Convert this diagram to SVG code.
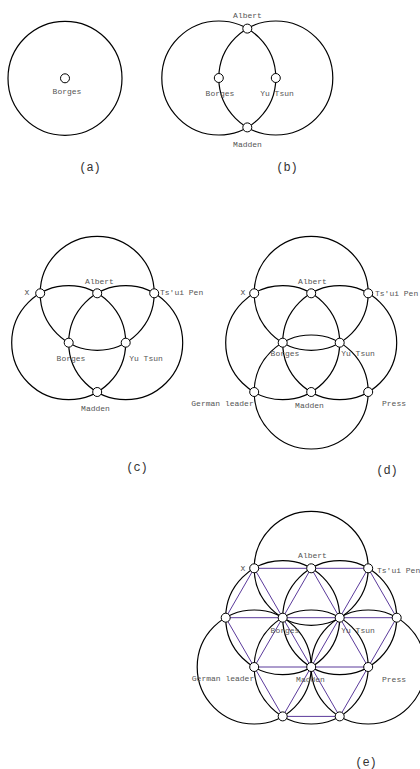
<svg xmlns="http://www.w3.org/2000/svg" width="420" height="769" viewBox="0 0 420 769">
<style>
.ring{fill:none;stroke:#000;stroke-width:1.2}
.node{fill:#fff;stroke:#000;stroke-width:1}
.edge{stroke:#5b3a9b;stroke-width:1;fill:none}
.lbl{font-family:"Liberation Mono","DejaVu Sans Mono",monospace;font-size:8px;fill:#555;text-anchor:middle}
.st{text-anchor:start}
.cap{font-family:"Liberation Mono","DejaVu Sans Mono",monospace;font-size:12px;fill:#333;text-anchor:middle}
</style>
<rect width="420" height="769" fill="#fff"/>

<!-- (a) -->
<g id="a-rings"><circle class="ring" cx="65" cy="78.3" r="57"/></g>
<g id="a-borges"><circle class="node" cx="65" cy="78.3" r="4.5"/><text class="lbl" x="67" y="93.5">Borges</text></g>
<text class="cap" x="90" y="170.5">(a)</text>

<!-- (b) -->
<g id="b-rings">
<circle class="ring" cx="218.8" cy="78" r="57"/>
<circle class="ring" cx="275.8" cy="78" r="57"/>
</g>
<g id="b-albert"><circle class="node" cx="247.3" cy="28.6" r="4.5"/><text class="lbl" x="247.5" y="18">Albert</text></g>
<g id="b-borges"><circle class="node" cx="218.8" cy="78" r="4.5"/><text class="lbl" x="220" y="95.5">Borges</text></g>
<g id="b-yutsun"><circle class="node" cx="275.8" cy="78" r="4.5"/><text class="lbl" x="277" y="95.5">Yu Tsun</text></g>
<g id="b-madden"><circle class="node" cx="247.3" cy="127.4" r="4.5"/><text class="lbl" x="247.5" y="147">Madden</text></g>
<text class="cap" x="287" y="170.5">(b)</text>

<!-- (c) -->
<g id="c-rings">
<circle class="ring" cx="97.2" cy="293.3" r="57"/>
<circle class="ring" cx="68.7" cy="342.7" r="57"/>
<circle class="ring" cx="125.7" cy="342.7" r="57"/>
</g>
<g id="c-x"><circle class="node" cx="40.2" cy="293.3" r="4.5"/><text class="lbl" x="27" y="294.5">X</text></g>
<g id="c-albert"><circle class="node" cx="97.2" cy="293.3" r="4.5"/><text class="lbl" x="99.5" y="283.5">Albert</text></g>
<g id="c-tsuipen"><circle class="node" cx="154.2" cy="293.3" r="4.5"/><text class="lbl st" x="160" y="294.5">Ts'ui Pen</text></g>
<g id="c-borges"><circle class="node" cx="68.7" cy="342.7" r="4.5"/><text class="lbl" x="71" y="361">Borges</text></g>
<g id="c-yutsun"><circle class="node" cx="125.7" cy="342.7" r="4.5"/><text class="lbl" x="146" y="361">Yu Tsun</text></g>
<g id="c-madden"><circle class="node" cx="97.2" cy="392" r="4.5"/><text class="lbl" x="95.5" y="410.5">Madden</text></g>
<text class="cap" x="137" y="470.5">(c)</text>

<!-- (d) -->
<g id="d-rings">
<circle class="ring" cx="311.2" cy="293.3" r="57"/>
<circle class="ring" cx="282.7" cy="342.7" r="57"/>
<circle class="ring" cx="339.7" cy="342.7" r="57"/>
<circle class="ring" cx="311.2" cy="392" r="57"/>
</g>
<g id="d-x"><circle class="node" cx="254.2" cy="293.3" r="4.5"/><text class="lbl" x="243" y="294.5">X</text></g>
<g id="d-albert"><circle class="node" cx="311.2" cy="293.3" r="4.5"/><text class="lbl" x="312.5" y="283.5">Albert</text></g>
<g id="d-tsuipen"><circle class="node" cx="368.2" cy="293.3" r="4.5"/><text class="lbl st" x="375" y="296">Ts'ui Pen</text></g>
<g id="d-borges"><circle class="node" cx="282.7" cy="342.7" r="4.5"/><text class="lbl" x="285" y="356">Borges</text></g>
<g id="d-yutsun"><circle class="node" cx="339.7" cy="342.7" r="4.5"/><text class="lbl" x="358" y="356">Yu Tsun</text></g>
<g id="d-german"><circle class="node" cx="254.2" cy="392" r="4.5"/><text class="lbl" x="222.5" y="406">German leader</text></g>
<g id="d-madden"><circle class="node" cx="311.2" cy="392" r="4.5"/><text class="lbl" x="309.5" y="408">Madden</text></g>
<g id="d-press"><circle class="node" cx="368.2" cy="392" r="4.5"/><text class="lbl" x="394" y="406">Press</text></g>
<text class="cap" x="387" y="473.5">(d)</text>

<!-- (e) -->
<g id="e-rings">
<circle class="ring" cx="311.2" cy="568.3" r="57"/>
<circle class="ring" cx="282.7" cy="617.7" r="57"/>
<circle class="ring" cx="339.7" cy="617.7" r="57"/>
<circle class="ring" cx="311.2" cy="667" r="57"/>
<circle class="ring" cx="254.2" cy="667" r="57"/>
<circle class="ring" cx="368.2" cy="667" r="57"/>
</g>
<g id="e-connectors">
<line class="edge" x1="254.2" y1="568.3" x2="368.2" y2="568.3"/>
<line class="edge" x1="225.7" y1="617.7" x2="396.7" y2="617.7"/>
<line class="edge" x1="254.2" y1="667" x2="368.2" y2="667"/>
<line class="edge" x1="282.7" y1="716.4" x2="339.7" y2="716.4"/>
<line class="edge" x1="254.2" y1="568.3" x2="225.7" y2="617.7"/>
<line class="edge" x1="254.2" y1="568.3" x2="282.7" y2="617.7"/>
<line class="edge" x1="311.2" y1="568.3" x2="282.7" y2="617.7"/>
<line class="edge" x1="311.2" y1="568.3" x2="339.7" y2="617.7"/>
<line class="edge" x1="368.2" y1="568.3" x2="339.7" y2="617.7"/>
<line class="edge" x1="368.2" y1="568.3" x2="396.7" y2="617.7"/>
<line class="edge" x1="225.7" y1="617.7" x2="254.2" y2="667"/>
<line class="edge" x1="282.7" y1="617.7" x2="254.2" y2="667"/>
<line class="edge" x1="282.7" y1="617.7" x2="311.2" y2="667"/>
<line class="edge" x1="339.7" y1="617.7" x2="311.2" y2="667"/>
<line class="edge" x1="339.7" y1="617.7" x2="368.2" y2="667"/>
<line class="edge" x1="396.7" y1="617.7" x2="368.2" y2="667"/>
<line class="edge" x1="254.2" y1="667" x2="282.7" y2="716.4"/>
<line class="edge" x1="311.2" y1="667" x2="282.7" y2="716.4"/>
<line class="edge" x1="311.2" y1="667" x2="339.7" y2="716.4"/>
<line class="edge" x1="368.2" y1="667" x2="339.7" y2="716.4"/>
</g>
<g id="e-x"><circle class="node" cx="254.2" cy="568.3" r="4.5"/><text class="lbl" x="243" y="571">X</text></g>
<g id="e-albert"><circle class="node" cx="311.2" cy="568.3" r="4.5"/><text class="lbl" x="312.5" y="558">Albert</text></g>
<g id="e-tsuipen"><circle class="node" cx="368.2" cy="568.3" r="4.5"/><text class="lbl st" x="377" y="573">Ts'ui Pen</text></g>
<g id="e-n1"><circle class="node" cx="225.7" cy="617.7" r="4.5"/></g>
<g id="e-borges"><circle class="node" cx="282.7" cy="617.7" r="4.5"/><text class="lbl" x="285" y="633">Borges</text></g>
<g id="e-yutsun"><circle class="node" cx="339.7" cy="617.7" r="4.5"/><text class="lbl" x="358" y="633">Yu Tsun</text></g>
<g id="e-n2"><circle class="node" cx="396.7" cy="617.7" r="4.5"/></g>
<g id="e-german"><circle class="node" cx="254.2" cy="667" r="4.5"/><text class="lbl" x="223" y="680.5">German leader</text></g>
<g id="e-madden"><circle class="node" cx="311.2" cy="667" r="4.5"/><text class="lbl" x="310.5" y="682">Madden</text></g>
<g id="e-press"><circle class="node" cx="368.2" cy="667" r="4.5"/><text class="lbl" x="394" y="682">Press</text></g>
<g id="e-n3"><circle class="node" cx="282.7" cy="716.4" r="4.5"/></g>
<g id="e-n4"><circle class="node" cx="339.7" cy="716.4" r="4.5"/></g>
<text class="cap" x="366" y="765.5">(e)</text>
</svg>
